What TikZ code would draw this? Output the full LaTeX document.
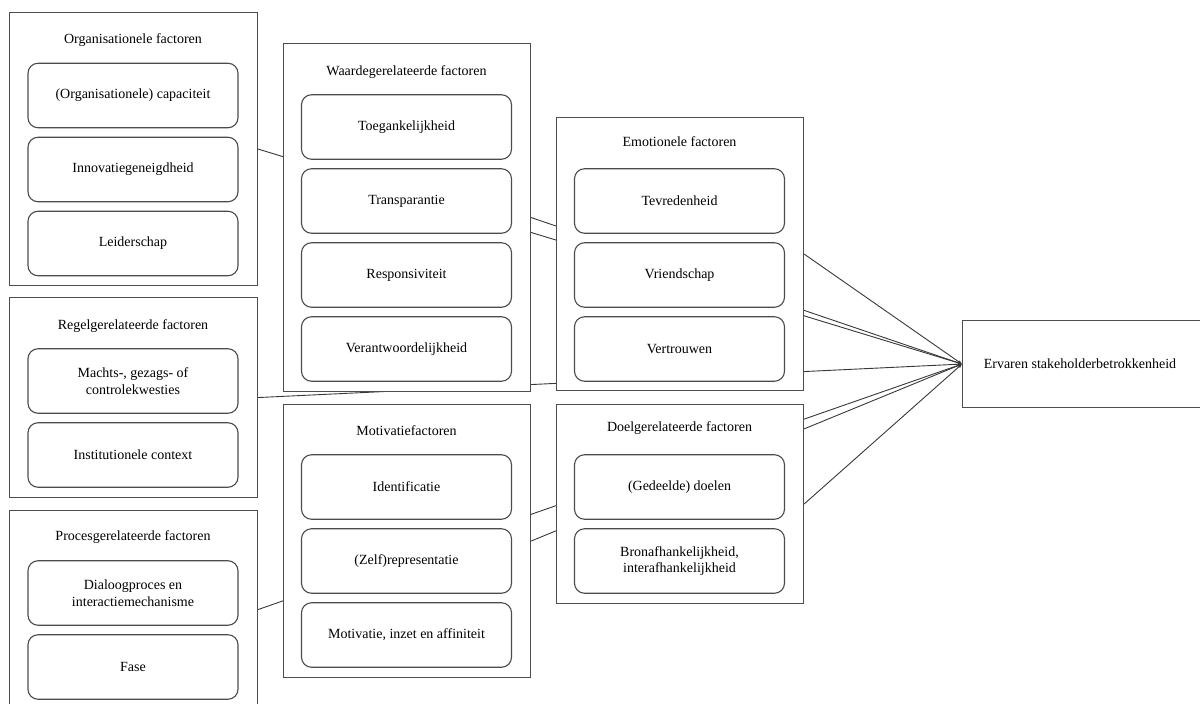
\documentclass[tikz,border=0pt]{standalone}
\usepackage{fontspec}
\setmainfont{Liberation Serif}
\usetikzlibrary{backgrounds,arrows.meta}
\begin{document}
\begin{tikzpicture}[x=1pt,y=-1pt,
  grp/.style={draw=black!70, line width=1.1pt, fill=white, anchor=north west, inner sep=0pt},
  item/.style={draw=black!70, line width=1.1pt, fill=white, rounded corners=10pt, minimum width=210pt, minimum height=64.5pt, align=center, font=\fontsize{14}{16.5}\selectfont, inner sep=2pt},
  ttl/.style={font=\fontsize{14}{16.5}\selectfont, inner sep=1pt},
  conn/.style={draw=black!78, line width=0.9pt, -{Latex[length=4pt,width=3.5pt]}}]
\useasboundingbox (0,0) rectangle (1200,704);
\begin{scope}
\clip (0,0) rectangle (1200,704);
% group boxes
\node[grp, minimum width=248pt, minimum height=273pt] (org) at (9,12) {};
\node[grp, minimum width=248pt, minimum height=200pt] (reg) at (9,297) {};
\node[grp, minimum width=248pt, minimum height=198pt] (pro) at (9,510) {};
\node[grp, minimum width=247pt, minimum height=348pt] (waa) at (283,43) {};
\node[grp, minimum width=247pt, minimum height=273pt] (mot) at (283,404) {};
\node[grp, minimum width=247pt, minimum height=273pt] (emo) at (556,117) {};
\node[grp, minimum width=247pt, minimum height=199pt] (doe) at (556,404) {};
\node[grp, minimum width=240pt, minimum height=87pt] (tgt) at (962,320) {};
\node[ttl] (tgtT) at (1080,363.5) {Ervaren stakeholderbetrokkenheid};
% titles
\node[ttl] (orgT) at (133,40) {Organisationele factoren};
\node[ttl] (regT) at (133,326) {Regelgerelateerde factoren};
\node[ttl] (proT) at (133,537) {Procesgerelateerde factoren};
\node[ttl] (waaT) at (406.5,72) {Waardegerelateerde factoren};
\node[ttl] (motT) at (406.5,431) {Motivatiefactoren};
\node[ttl] (emoT) at (679.5,142) {Emotionele factoren};
\node[ttl] (doeT) at (679.5,428) {Doelgerelateerde factoren};
% items
\node[item] (o1) at (133,95.5) {(Organisationele) capaciteit};
\node[item] (o2) at (133,169.5) {Innovatiegeneigdheid};
\node[item] (o3) at (133,243.5) {Leiderschap};
\node[item] (r1) at (133,381) {Machts-, gezags- of\\controlekwesties};
\node[item] (r2) at (133,455) {Institutionele context};
\node[item] (p1) at (133,593) {Dialoogproces en\\interactiemechanisme};
\node[item] (p2) at (133,667) {Fase};
\node[item] (w1) at (406.5,127) {Toegankelijkheid};
\node[item] (w2) at (406.5,201) {Transparantie};
\node[item] (w3) at (406.5,275) {Responsiviteit};
\node[item] (w4) at (406.5,349) {Verantwoordelijkheid};
\node[item] (m1) at (406.5,487) {Identificatie};
\node[item] (m2) at (406.5,561) {(Zelf)representatie};
\node[item] (m3) at (406.5,635) {Motivatie, inzet en affiniteit};
\node[item] (e1) at (679.5,201) {Tevredenheid};
\node[item] (e2) at (679.5,275) {Vriendschap};
\node[item] (e3) at (679.5,349) {Vertrouwen};
\node[item] (d1) at (679.5,487) {(Gedeelde) doelen};
\node[item] (d2) at (679.5,561) {Bronafhankelijkheid,\\interafhankelijkheid};
% connectors
\begin{scope}[on background layer]
\foreach \g in {org,reg,pro,waa,mot,emo,doe}
  \draw[conn] (\g.east) -- (tgt.west);
\end{scope}
\end{scope}
\end{tikzpicture}
\end{document}
